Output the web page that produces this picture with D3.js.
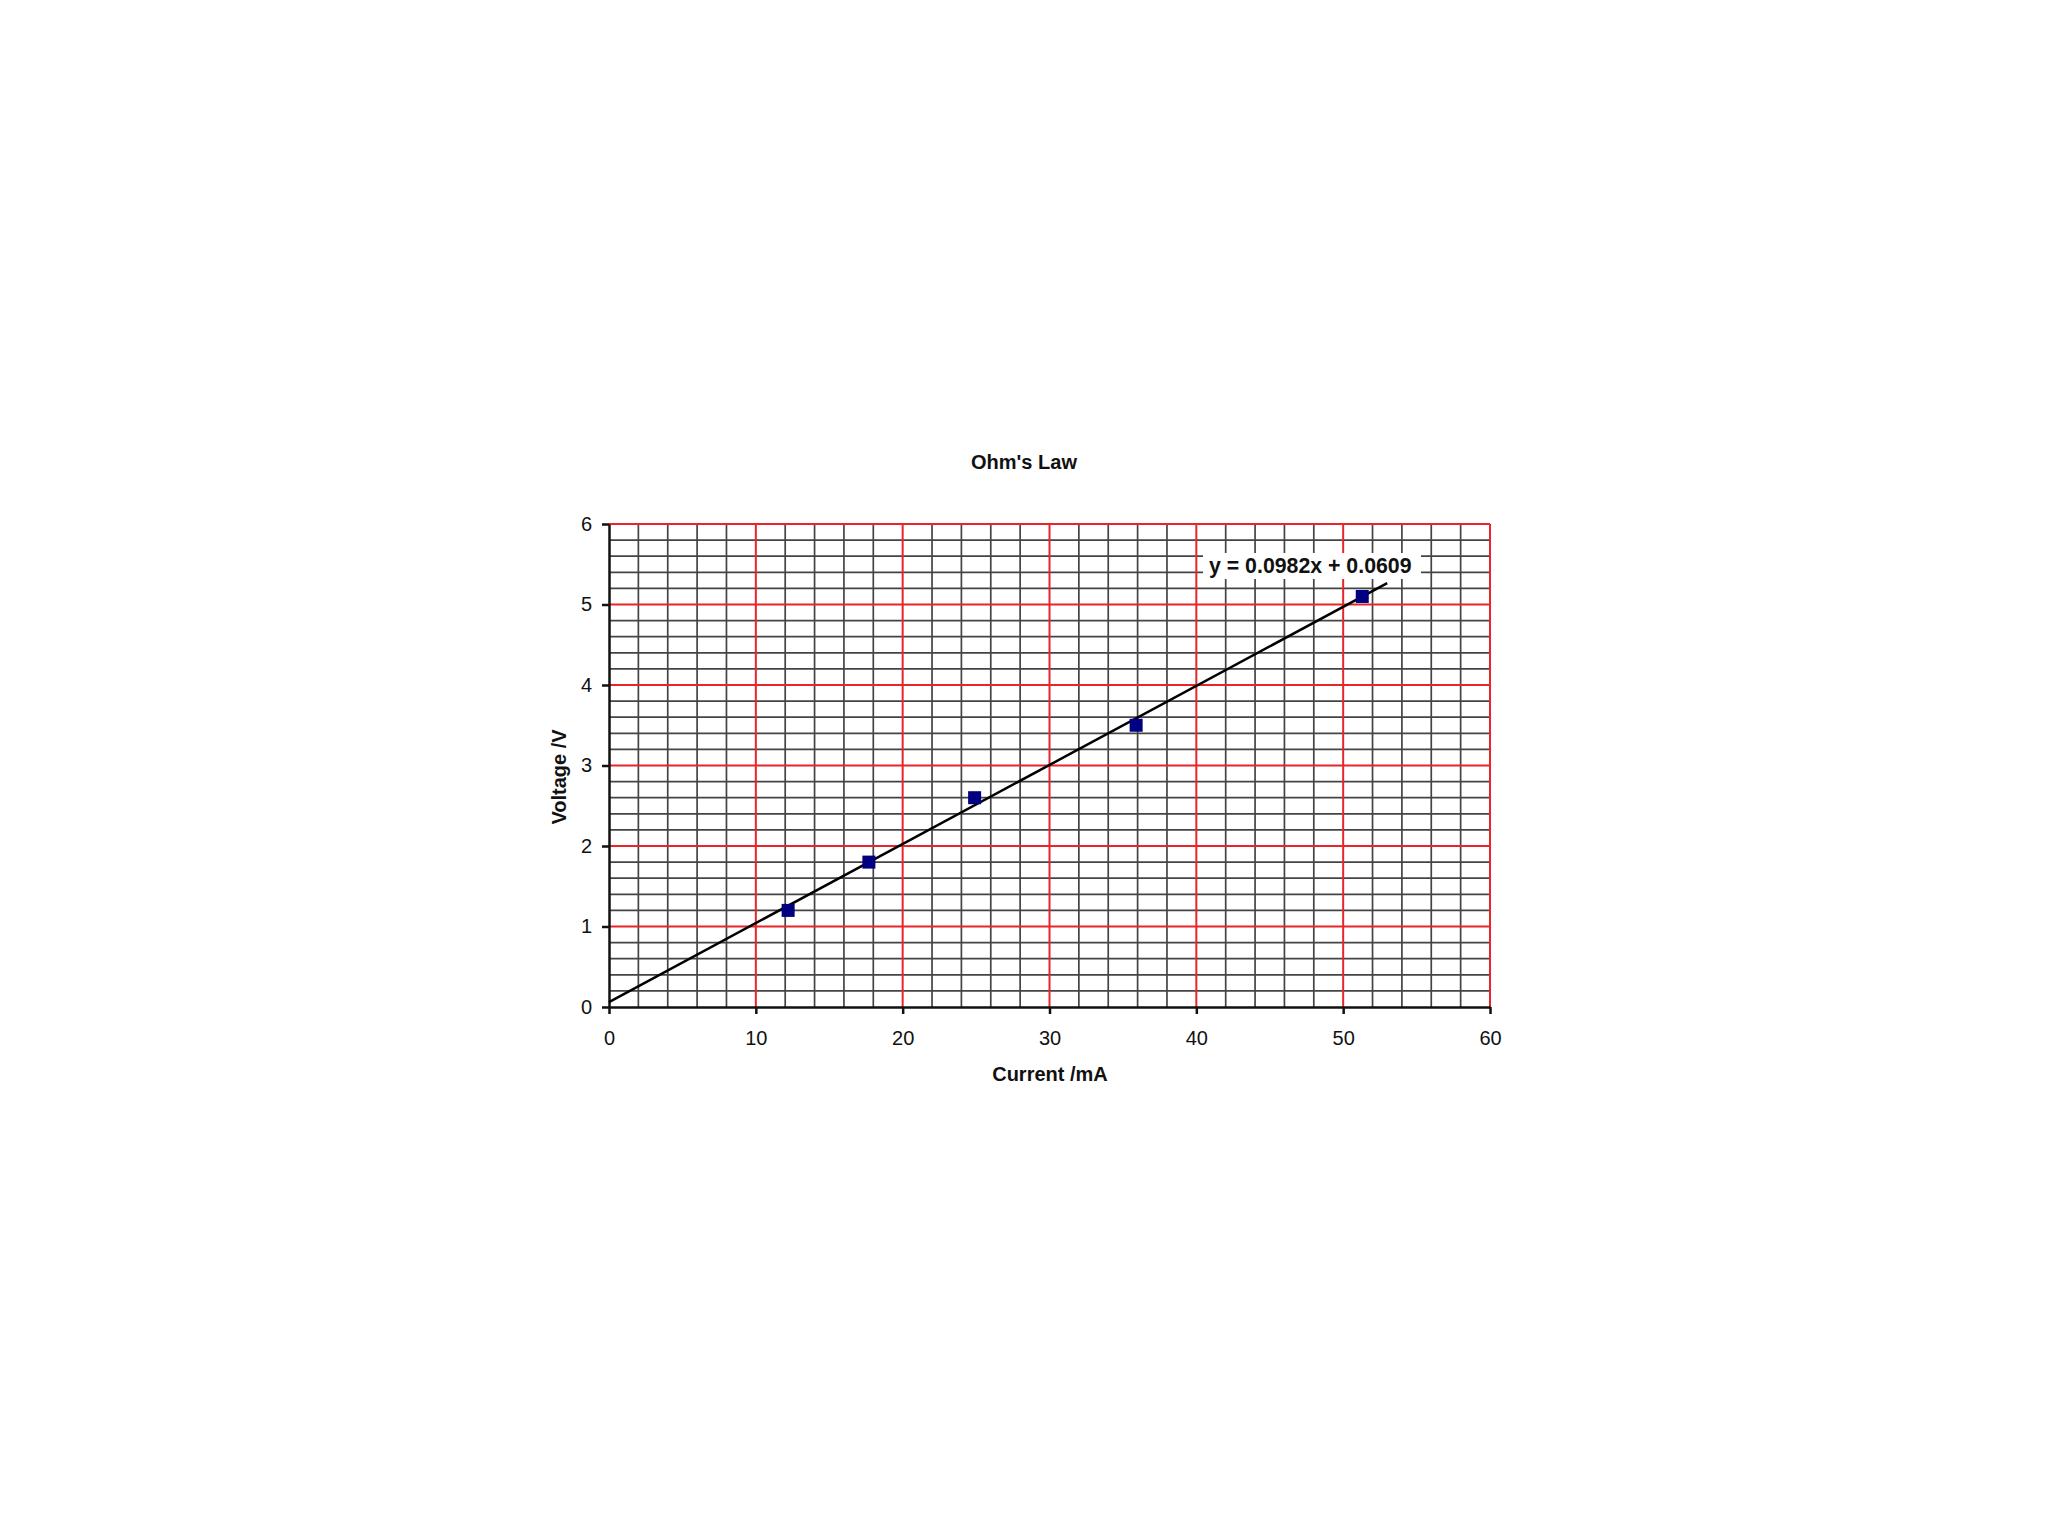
<!DOCTYPE html>
<html>
<head>
<meta charset="utf-8">
<script src="https://cdn.jsdelivr.net/npm/d3@7"></script>
<style>
  body { margin: 0; background: #fff; }
  svg text { font-family: "Liberation Sans", Arial, sans-serif; }
</style>
</head>
<body>
<div id="chart"></div>
<script>
// data
var current = [12.2, 17.7, 24.9, 35.9, 51.3];
var voltage = [1.2, 1.8, 2.6, 3.5, 5.1];
var xTicks = [0, 10, 20, 30, 40, 50, 60];
var yTicks = [0, 1, 2, 3, 4, 5, 6];
var slope = 0.0982, intercept = 0.0609;
var trendRange = [0, 53];

var width = 2048, height = 1536;
var plotLeft = 609, plotRight = 1490, plotTop = 524, plotBottom = 1007;

var svg = d3.select("#chart").append("svg")
    .attr("width", width)
    .attr("height", height);

var x = d3.scaleLinear().domain([0, 60]).range([plotLeft, plotRight]);
var y = d3.scaleLinear().domain([0, 6]).range([plotBottom, plotTop]);

// minor grid
var xMinor = d3.range(0, 60.001, 2).filter(function(v) { return v % 10 !== 0; });
var yMinor = d3.range(0, 30.001, 1).map(function(v) { return v / 5; })
    .filter(function(v, i) { return i % 5 !== 0; });

var grid = svg.append("g");
grid.selectAll(".xm").data(xMinor).enter().append("line")
    .attr("x1", x).attr("x2", x)
    .attr("y1", y(0)).attr("y2", y(6))
    .attr("stroke", "#444").attr("stroke-width", 1.7);
grid.selectAll(".ym").data(yMinor).enter().append("line")
    .attr("y1", y).attr("y2", y)
    .attr("x1", x(0)).attr("x2", x(60))
    .attr("stroke", "#444").attr("stroke-width", 1.7);

// major grid
grid.selectAll(".xM").data(xTicks.slice(1)).enter().append("line")
    .attr("x1", x).attr("x2", x)
    .attr("y1", y(0)).attr("y2", y(6))
    .attr("stroke", "#e8262a").attr("stroke-width", 2);
grid.selectAll(".yM").data(yTicks.slice(1)).enter().append("line")
    .attr("y1", y).attr("y2", y)
    .attr("x1", x(0)).attr("x2", x(60))
    .attr("stroke", "#e8262a").attr("stroke-width", 2);

// axes
var xAxis = d3.axisBottom(x).tickValues(xTicks).tickFormat(d3.format("d"))
    .tickSize(7).tickPadding(17).tickSizeOuter(0);
var yAxis = d3.axisLeft(y).tickValues(yTicks).tickFormat(d3.format("d"))
    .tickSize(7).tickPadding(10).tickSizeOuter(0);

var gX = svg.append("g")
    .attr("transform", "translate(0," + plotBottom + ")")
    .call(xAxis);
var gY = svg.append("g")
    .attr("transform", "translate(" + plotLeft + ",0)")
    .call(yAxis);

[gX, gY].forEach(function(g) {
    g.select(".domain").attr("stroke", "#111").attr("stroke-width", 2.5);
    g.selectAll(".tick line").attr("stroke", "#111").attr("stroke-width", 2.5);
    g.selectAll(".tick text").attr("font-size", 20).attr("fill", "#111")
        .style("font-family", "'Liberation Sans', Arial, sans-serif");
});

// trend line
svg.append("line")
    .attr("x1", x(trendRange[0])).attr("y1", y(slope * trendRange[0] + intercept))
    .attr("x2", x(trendRange[1])).attr("y2", y(slope * trendRange[1] + intercept))
    .attr("stroke", "#000").attr("stroke-width", 2.5);

// points
var pts = current.map(function(c, i) { return { x: c, y: voltage[i] }; });
svg.selectAll(".pt").data(pts).enter().append("rect")
    .attr("x", function(d) { return x(d.x) - 6.5; })
    .attr("y", function(d) { return y(d.y) - 6.5; })
    .attr("width", 13).attr("height", 13)
    .attr("fill", "#000080");

// equation label
var label = svg.append("g");
label.append("rect")
    .attr("x", 1203).attr("y", 553)
    .attr("width", 218).attr("height", 26)
    .attr("fill", "#fff");
label.append("text")
    .attr("x", 1209).attr("y", 573)
    .attr("font-size", 21.3).attr("font-weight", "bold").attr("fill", "#111")
    .text("y = " + slope + "x + " + intercept);

// titles
svg.append("text")
    .attr("x", 1024).attr("y", 469)
    .attr("text-anchor", "middle")
    .attr("font-size", 20).attr("font-weight", "bold").attr("fill", "#111")
    .text("Ohm's Law");

svg.append("text")
    .attr("x", 1050).attr("y", 1081)
    .attr("text-anchor", "middle")
    .attr("font-size", 20).attr("font-weight", "bold").attr("fill", "#111")
    .text("Current /mA");

svg.append("text")
    .attr("transform", "translate(566,777) rotate(-90)")
    .attr("text-anchor", "middle")
    .attr("font-size", 20).attr("font-weight", "bold").attr("fill", "#111")
    .text("Voltage /V");
</script>
</body>
</html>
